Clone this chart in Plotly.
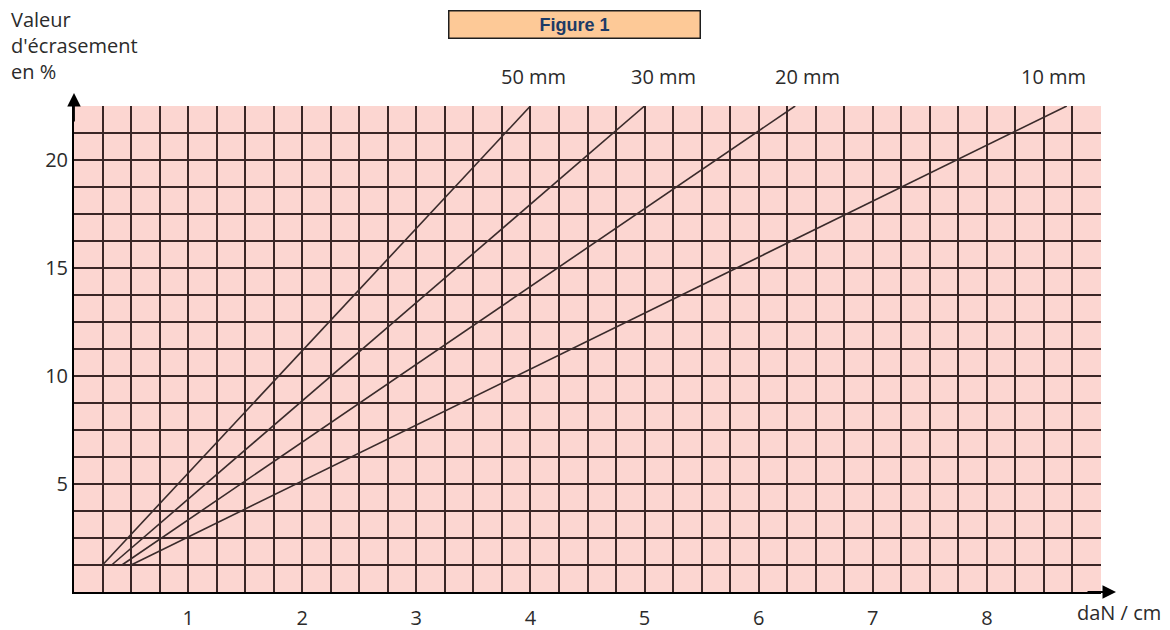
import plotly.graph_objects as go

# Crush curves: load per cm (daN/cm) versus crush value (%) for each thickness
thickness = ["50 mm", "30 mm", "20 mm", "10 mm"]
load_start = [0.25, 0.33, 0.42, 0.50]
load_end = [4.0, 5.0, 6.32, 8.70]
crush_start = [1.25, 1.25, 1.25, 1.25]
crush_end = [22.5, 22.5, 22.5, 22.5]

x_ticks = [1, 2, 3, 4, 5, 6, 7, 8]
y_ticks = [5, 10, 15, 20]

W, H = 1170, 630
ML, MR, MT, MB = 74, 69, 106, 38
PW, PH = W - ML - MR, H - MT - MB


def px_x(px):
    return (px - ML) / PW


def px_y(py):
    return (H - MB - py) / PH


GRID = "#3a2626"
CURVE = "#3a2b2b"
TEXT = "#2b2b2b"
FONT = "Open Sans"
FS = 20

fig = go.Figure()
for name, x0, x1, y0, y1 in zip(thickness, load_start, load_end, crush_start, crush_end):
    fig.add_trace(go.Scatter(
        x=[x0, x1], y=[y0, y1], mode="lines", name=name,
        line=dict(color=CURVE, width=1.6), showlegend=False, hoverinfo="skip",
    ))

# curve names written above the top end of each line
label_dx = [3, 19, 12, -13]
for name, x1, y1, dx in zip(thickness, load_end, crush_end, label_dx):
    fig.add_annotation(x=x1, y=y1, xref="x", yref="y", text=name, showarrow=False,
                       xshift=dx, yshift=30, font=dict(family=FONT, size=FS, color=TEXT))

# axis arrows
fig.add_annotation(x=0, y=1 + 13 / PH, xref="paper", yref="paper", text="",
                   showarrow=True, ax=0, ay=30, arrowhead=2, arrowsize=1.5,
                   arrowwidth=1.8, arrowcolor="black", standoff=0)
fig.add_annotation(x=1 + 15 / PW, y=0, xref="paper", yref="paper", text="",
                   showarrow=True, ax=-30, ay=0, arrowhead=2, arrowsize=1.5,
                   arrowwidth=1.8, arrowcolor="black", standoff=0)

# axis titles
fig.add_annotation(x=px_x(9), y=px_y(4), xref="paper", yref="paper",
                   xanchor="left", yanchor="top", align="left", showarrow=False,
                   text="Valeur<br>d'écrasement<br>en %",
                   font=dict(family=FONT, size=FS, color=TEXT))
fig.add_annotation(x=px_x(1075), y=px_y(612), xref="paper", yref="paper",
                   xanchor="left", yanchor="middle", showarrow=False,
                   text="daN / cm", font=dict(family=FONT, size=FS, color=TEXT))

# boxed heading
fig.add_annotation(x=px_x(574), y=px_y(24), xref="paper", yref="paper",
                   xanchor="center", yanchor="middle", showarrow=False,
                   text="<b>Figure 1</b>", width=248, height=24,
                   bgcolor="#fdc997", bordercolor="#1e1e1e", borderwidth=1.5,
                   font=dict(family="Liberation Sans, Arial", size=18, color="#1c3a66"))

fig.update_xaxes(
    range=[0, 9], tickvals=x_ticks, ticks="", showgrid=True, gridcolor=GRID, gridwidth=1.7,
    minor=dict(dtick=0.25, tick0=0, showgrid=True, gridcolor=GRID, gridwidth=1.7),
    showline=True, linecolor="black", linewidth=2, zeroline=False, automargin=False,
    tickfont=dict(family=FONT, size=FS, color=TEXT), ticklabelstandoff=7,
)
fig.update_yaxes(
    range=[0, 22.5], tickvals=y_ticks, ticks="", showgrid=True, gridcolor=GRID, gridwidth=1.7,
    minor=dict(dtick=1.25, tick0=0, showgrid=True, gridcolor=GRID, gridwidth=1.7),
    showline=True, linecolor="black", linewidth=2, zeroline=False, automargin=False,
    tickfont=dict(family=FONT, size=FS, color=TEXT), ticklabelstandoff=0,
)
fig.update_layout(
    width=W, height=H, autosize=False,
    margin=dict(l=ML, r=MR, t=MT, b=MB, pad=0),
    plot_bgcolor="#fcd6d1", paper_bgcolor="white",
)
fig.write_html("out.html")
